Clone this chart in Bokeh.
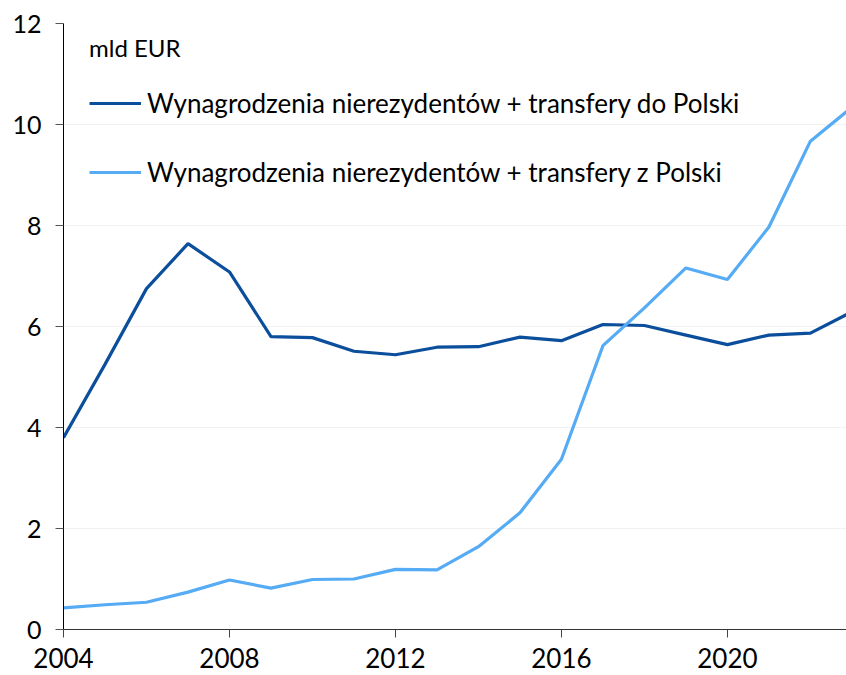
from bokeh.plotting import figure
from bokeh.models import Legend, LegendItem, Range1d, FixedTicker
from bokeh.embed import file_html
from bokeh.resources import INLINE

years = list(range(2004, 2024))
to_poland = [3.80, 5.25, 6.75, 7.64, 7.08, 5.80, 5.78, 5.51, 5.44, 5.59, 5.60,
             5.79, 5.72, 6.04, 6.02, 5.83, 5.64, 5.83, 5.87, 6.29]
from_poland = [0.43, 0.49, 0.54, 0.74, 0.98, 0.82, 0.99, 1.00, 1.19, 1.18, 1.64,
               2.31, 3.37, 5.62, 6.37, 7.16, 6.93, 7.97, 9.67, 10.34]
series_names = ["Wynagrodzenia nierezydentów + transfery do Polski",
                "Wynagrodzenia nierezydentów + transfery z Polski"]
unit_label = "mld EUR"
x_ticks = [2004, 2008, 2012, 2016, 2020]
y_ticks = [0, 2, 4, 6, 8, 10, 12]

FONT = "Lato"

p = figure(width=846, height=675, output_backend="svg", toolbar_location=None,
           x_range=Range1d(2004, 2022.87), y_range=Range1d(0, 12),
           min_border_left=63, min_border_right=0, min_border_top=23,
           min_border_bottom=46)
p.outline_line_color = None
p.background_fill_color = "white"
p.border_fill_color = "white"

p.xgrid.grid_line_color = None
p.ygrid.grid_line_color = "#f2f2f2"
p.ygrid.grid_line_width = 1

p.xaxis.ticker = FixedTicker(ticks=x_ticks)
p.yaxis.ticker = FixedTicker(ticks=y_ticks)
p.xaxis.minor_tick_line_color = None
p.yaxis.minor_tick_line_color = None
p.xaxis.axis_line_color = "#333333"
p.xaxis.major_tick_line_color = "#444444"
p.yaxis.axis_line_color = "black"
p.yaxis.major_tick_line_color = "#555555"
p.xaxis.major_tick_in = 0
p.xaxis.major_tick_out = 8
p.yaxis.major_tick_in = 0
p.yaxis.major_tick_out = 8
p.xaxis.major_label_standoff = 10
p.yaxis.major_label_standoff = 14
p.xaxis.major_label_text_font = FONT
p.xaxis.major_label_text_font_size = "26px"
p.xaxis.major_label_text_color = "black"
p.yaxis.major_label_text_font = FONT
p.yaxis.major_label_text_font_size = "25px"
p.yaxis.major_label_text_color = "black"

r1 = p.line(years, to_poland, line_color="#0B4F9C", line_width=3.2)
r2 = p.line(years, from_poland, line_color="#55ABF4", line_width=3.2)

legend = Legend(items=[LegendItem(label=series_names[0], renderers=[r1]),
                       LegendItem(label=series_names[1], renderers=[r2])],
                location=(26, 441), title=unit_label,
                title_text_font=FONT, title_text_font_size="24px",
                title_text_font_style="normal", title_text_color="black",
                title_standoff=25,
                label_text_font=FONT, label_text_font_size="26px",
                label_text_color="black", label_standoff=6,
                glyph_width=52, glyph_height=30, label_height=30,
                spacing=37, padding=0, margin=0,
                border_line_color=None, background_fill_alpha=0)
p.add_layout(legend)

open("out.html", "w").write(file_html(p, INLINE))
